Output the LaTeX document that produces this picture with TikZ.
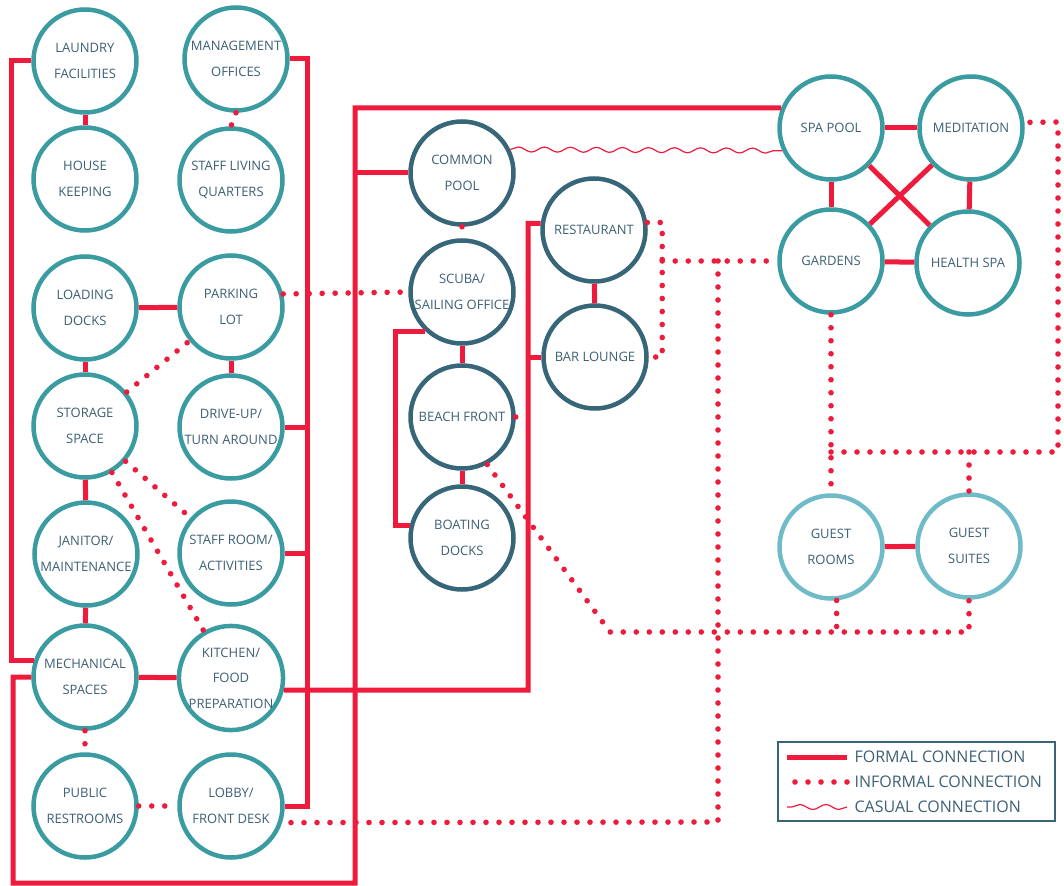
\documentclass[tikz,border=0pt]{standalone}
\usepackage{fontspec}
\setmainfont{Open Sans}
\usetikzlibrary{decorations.pathmorphing}
\definecolor{cred}{HTML}{EE1B3D}
\definecolor{cteal}{HTML}{3A9CA1}
\definecolor{cdark}{HTML}{386679}
\definecolor{clight}{HTML}{6FBCC8}
\definecolor{ctext}{HTML}{3D6075}

\begin{document}
\begin{tikzpicture}[x=1pt, y=-1pt,
    room/.style={circle, draw=cteal, fill=white, line width=4.5pt, minimum size=103pt,
                 inner sep=0pt, align=center, text=ctext, font=\fontsize{13}{25.5}\selectfont},
    poolside/.style={room, draw=cdark},
    guest/.style={room, draw=clight},
    formal/.style={cred, line width=5pt},
    informal/.style={cred, line width=5.6pt, line cap=round, dash pattern=on 0pt off 13pt},
    casual/.style={cred, line width=1.2pt, decorate,
                   decoration={snake, amplitude=2.5pt, segment length=26pt}},
    keytext/.style={anchor=west, text=ctext, font=\fontsize{16}{18}\selectfont}]

    \useasboundingbox (0,0) rectangle (1064,885);

    % --- service column --------------------------------------------------
    \node[room] (laundry)   at (85,61)   {LAUNDRY\\FACILITIES};
    \node[room] (mgmt)      at (236,59)  {MANAGEMENT\\OFFICES};
    \node[room] (housek)    at (85,179)  {HOUSE\\KEEPING};
    \node[room] (staffliv)  at (231,180) {STAFF LIVING\\QUARTERS};
    \node[room] (loading)   at (85,308)  {LOADING\\DOCKS};
    \node[room] (parking)   at (231,307) {PARKING\\LOT};
    \node[room] (storage)   at (85,426)  {STORAGE\\SPACE};
    \node[room] (drive)     at (231,427) {DRIVE-UP/\\TURN AROUND};
    \node[room] (janitor)   at (86,554)  {JANITOR/\\MAINTENANCE};
    \node[room] (staffroom) at (231,553) {STAFF ROOM/\\ACTIVITIES};
    \node[room] (mech)      at (85,677)  {MECHANICAL\\SPACES};
    \node[room] (kitchen)   at (231,678) {KITCHEN/\\FOOD\\PREPARATION};
    \node[room] (restrooms) at (85,806)  {PUBLIC\\RESTROOMS};
    \node[room] (lobby)     at (231,806) {LOBBY/\\FRONT DESK};

    % --- pool and beach ---------------------------------------------------
    \node[poolside] (cpool)      at (462,173) {COMMON\\POOL};
    \node[poolside] (scuba)      at (462,292) {SCUBA/\\SAILING OFFICE};
    \node[poolside] (beach)      at (462,417) {BEACH FRONT};
    \node[poolside] (boating)    at (462,538) {BOATING\\DOCKS};
    \node[poolside] (restaurant) at (594,230) {RESTAURANT};
    \node[poolside] (bar)        at (595,357) {BAR LOUNGE};

    % --- spa and guests ---------------------------------------------------
    \node[room]  (spa)     at (831,128) {SPA POOL};
    \node[room]  (medit)   at (971,128) {MEDITATION};
    \node[room]  (gardens) at (831,261) {GARDENS};
    \node[room]  (health)  at (968,263) {HEALTH SPA};
    \node[guest] (grooms)  at (831,547) {GUEST\\ROOMS};
    \node[guest] (gsuites) at (969,546) {GUEST\\SUITES};

    % --- formal connections -----------------------------------------------
    \draw[formal] (laundry) -- (housek);
    \draw[formal] (loading) -- (parking);
    \draw[formal] (loading) -- (storage);
    \draw[formal] (parking) -- (drive);
    \draw[formal] (storage) -- (janitor);
    \draw[formal] (janitor) -- (mech);
    \draw[formal] (mech) -- (kitchen);
    \draw[formal] (laundry.west) -- ++(-20,0) |- (mech.162);
    \draw[formal] (mgmt.east) -| (307,806) -- (lobby.east);
    \draw[formal] (drive.east) -- (307,427);
    \draw[formal] (staffroom.east) -- (307,553);
    \draw[formal] (mech.west) -- (13,677) -- (13,883) -- (355,883) -- (355,108) -- (spa.158);
    \draw[formal] (355,173) -- (cpool.west);
    \draw[formal] (kitchen.-13) -- (528,690) |- (restaurant.173);
    \draw[formal] (528,357) -- (bar.west);
    \draw[formal] (scuba) -- (beach);
    \draw[formal] (beach) -- (boating);
    \draw[formal] (scuba.227) -- ++(-30,0) |- (boating.166);
    \draw[formal] (restaurant) -- (bar);
    \draw[formal] (spa) -- (medit);
    \draw[formal] (spa) -- (gardens);
    \draw[formal] (medit) -- (health);
    \draw[formal] (gardens) -- (health);
    \draw[formal] (spa) -- (health);
    \draw[formal] (medit) -- (gardens);
    \draw[formal] (grooms) -- (gsuites);

    % --- informal connections ---------------------------------------------
    \draw[informal] (mgmt.south) -- (staffliv.north);
    \draw[informal] (storage) -- (parking);
    \draw[informal] (storage) -- (staffroom);
    \draw[informal] (storage) -- (kitchen);
    \draw[informal] (mech.south) -- (restrooms.north);
    \draw[informal] (restrooms) -- (lobby);
    \draw[informal] (parking.14) -- (scuba.west);
    \draw[informal] (cpool.south) -- (scuba.north);
    \draw[informal] (beach.east) -- (528,417);
    \draw[informal] (restaurant.8) -- ++(15,0) coordinate (rbend) |- (bar.east);
    \draw[informal] (rbend |- gardens.west) -- (gardens.west);
    \draw[informal] (718,261) -- (718,822) -- (lobby.-18);
    \draw[informal] (beach.-62) -- (610,632) -| (gsuites.south);
    \draw[informal] (grooms.-84) -- (grooms.-84 |- 0,632);
    \draw[informal] (gardens.south) -- (grooms.north);
    \draw[informal] (831,452) -- (1058,452) -- (1058,122) -- (medit.6);
    \draw[informal] (969,452) -- (gsuites.north);

    % --- casual connection ------------------------------------------------
    \draw[casual] (cpool.26) -- (spa.205);

    % --- legend -----------------------------------------------------------
    \draw[cdark, line width=1.5pt] (778,742) rectangle (1055,821);
    \node[keytext] (kformal)   at (851,757) {FORMAL CONNECTION};
    \node[keytext] (kinformal) at (851,782) {INFORMAL CONNECTION};
    \node[keytext] (kcasual)   at (851,807) {CASUAL CONNECTION};
    \draw[formal]   ([xshift=-4pt]kformal.west) -- ++(-60,0);
    \draw[informal] ([xshift=-4pt]kinformal.west) -- ++(-60,0);
    \draw[casual]   ([xshift=-4pt]kcasual.west) -- ++(-60,0);
  \end{tikzpicture}
\end{document}
